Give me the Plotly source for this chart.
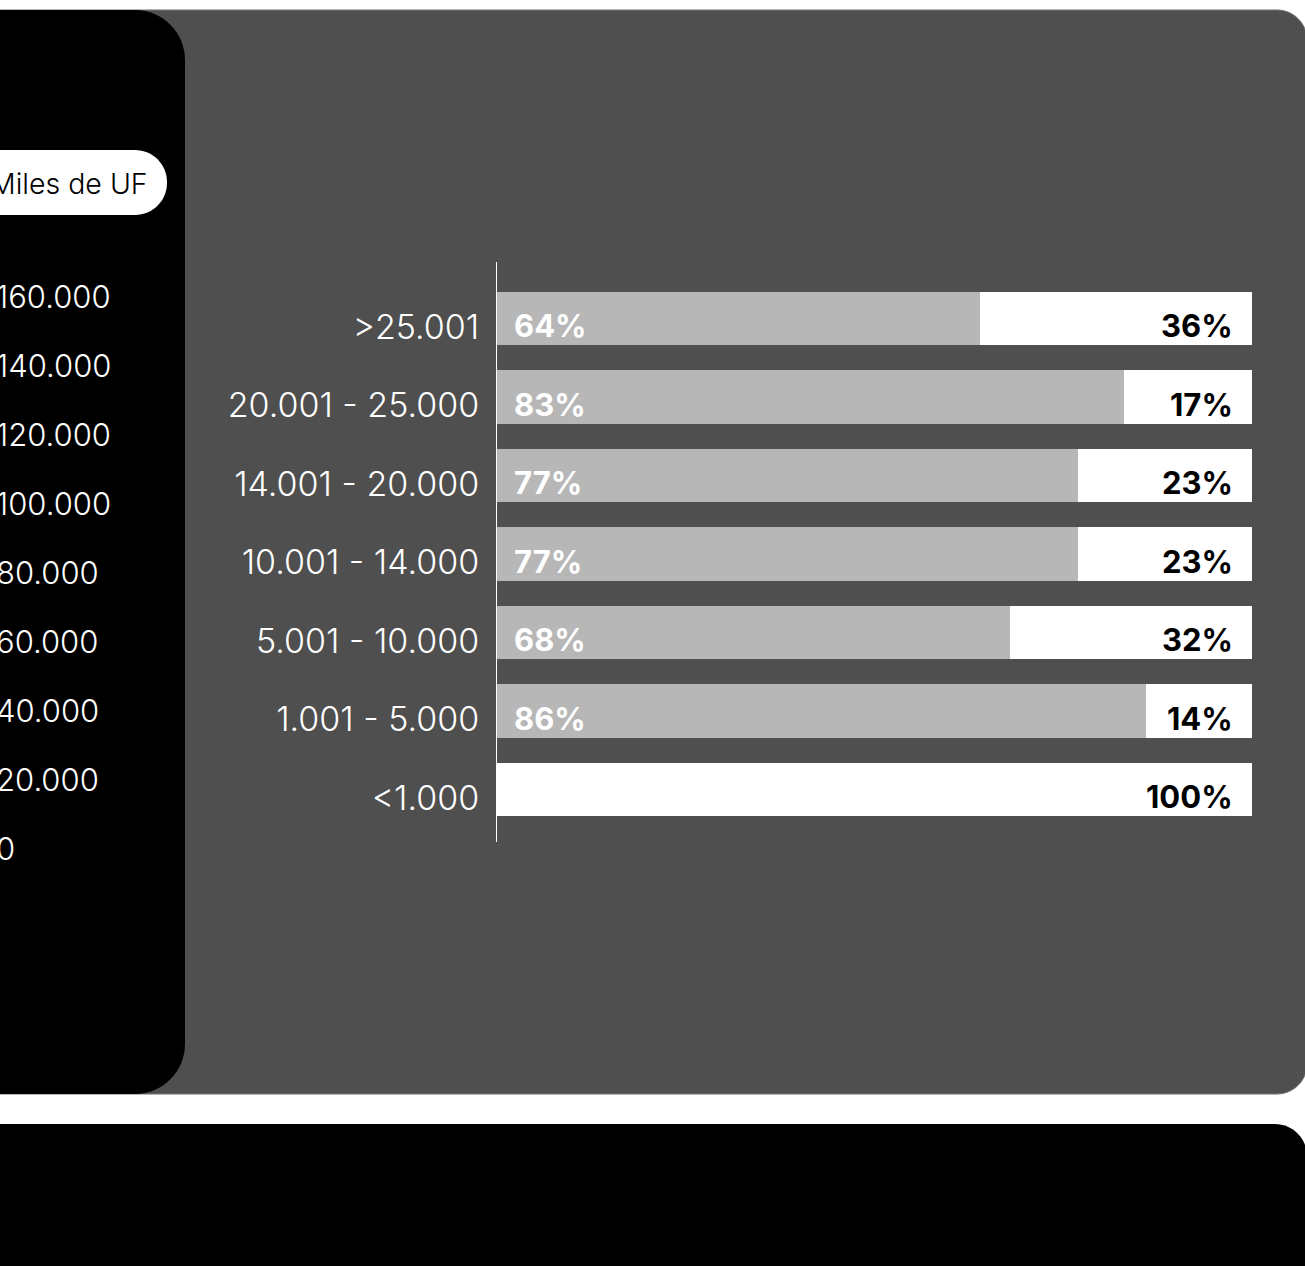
import plotly.graph_objects as go

# ---------------- data ----------------
categories = [">25.001", "20.001 - 25.000", "14.001 - 20.000", "10.001 - 14.000",
              "5.001 - 10.000", "1.001 - 5.000", "<1.000"]
share_gray = [64, 83, 77, 77, 68, 86, 0]
share_white = [36, 17, 23, 23, 32, 14, 100]
left_tick_values = [160000, 140000, 120000, 100000, 80000, 60000, 40000, 20000, 0]
left_tick_labels = ["160.000", "140.000", "120.000", "100.000", "80.000", "60.000",
                    "40.000", "20.000", "0"]
unit_label = "Miles de UF"

# ---------------- layout helpers ----------------
W, H = 1305, 1266
FONT = "Inter"
K = 0.5523


def px(x, y):
    return x / W, 1 - y / H


def rrect(x0, y0, x1, y1, rtl=0, rtr=0, rbr=0, rbl=0):
    def p(x, y):
        a, b = px(x, y)
        return f"{a:.6f},{b:.6f}"

    def corner(ax, ay, cx, cy, bx, by):
        c1 = (ax + K * (cx - ax), ay + K * (cy - ay))
        c2 = (bx + K * (cx - bx), by + K * (cy - by))
        return f" C {p(*c1)} {p(*c2)} {p(bx, by)}"

    s = f"M {p(x0 + rtl, y0)} L {p(x1 - rtr, y0)}"
    s += corner(x1 - rtr, y0, x1, y0, x1, y0 + rtr)
    s += f" L {p(x1, y1 - rbr)}"
    s += corner(x1, y1 - rbr, x1, y1, x1 - rbr, y1)
    s += f" L {p(x0 + rbl, y1)}"
    s += corner(x0 + rbl, y1, x0, y1, x0, y1 - rbl)
    s += f" L {p(x0, y0 + rtl)}"
    s += corner(x0, y0 + rtl, x0, y0, x0 + rtl, y0)
    return s + " Z"


fig = go.Figure()
fig.add_trace(go.Bar(y=categories, x=share_gray, orientation="h",
                     marker=dict(color="#b7b7b7", line=dict(width=0)),
                     hoverinfo="skip", showlegend=False))
fig.add_trace(go.Bar(y=categories, x=share_white, orientation="h",
                     marker=dict(color="#ffffff", line=dict(width=0)),
                     hoverinfo="skip", showlegend=False))

annotations = []
for cat, g, w in zip(categories, share_gray, share_white):
    if g > 0:
        annotations.append(dict(x=0, y=cat, xref="x", yref="y", text=f"{g}%",
                                showarrow=False, xanchor="left", xshift=15, yshift=-7,
                                font=dict(family=FONT, size=31, color="white", weight="bold")))
    if w > 0:
        annotations.append(dict(x=100, y=cat, xref="x", yref="y", text=f"{w}%",
                                showarrow=False, xanchor="right", xshift=-17, yshift=-7,
                                font=dict(family=FONT, size=31, color="black", weight="bold")))

for v, t in zip(left_tick_values, left_tick_labels):
    annotations.append(dict(x=-6 / W, y=v, xref="paper", yref="y2", text=t,
                            showarrow=False, xanchor="left", yanchor="middle",
                            font=dict(family=FONT, size=31, color="white", weight=300)))

annotations.append(dict(x=150 / W, y=1 - 183 / H, xref="paper", yref="paper", text=unit_label,
                        showarrow=False, xanchor="right", yanchor="middle",
                        font=dict(family=FONT, size=28.5, color="black", weight=300)))

shapes = [
    dict(type="path", xref="paper", yref="paper", layer="below",
         path=rrect(-20, 10, 1307, 1094, rtr=30, rbr=30),
         fillcolor="#4f4f4f", line=dict(color="#707070", width=1)),
    dict(type="path", xref="paper", yref="paper", layer="below",
         path=rrect(-20, 10, 185, 1094, rtr=50, rbr=50),
         fillcolor="#000000", line=dict(width=0)),
    dict(type="path", xref="paper", yref="paper", layer="below",
         path=rrect(-20, 1124, 1307, 1300, rtr=32),
         fillcolor="#000000", line=dict(width=0)),
    dict(type="path", xref="paper", yref="paper", layer="below",
         path=rrect(-60, 150, 167, 215, rtr=32, rbr=32),
         fillcolor="#ffffff", line=dict(width=0)),
]

# y2 maps the left-panel values: 0 -> 848px, 160000 -> 296px; its domain spans 270..880px
k = 552 / 160000
d_top, d_bot = 270, 880
r0 = -(d_bot - 848) / k
r1 = r0 + (d_bot - d_top) / k

fig.update_layout(
    width=W, height=H,
    margin=dict(l=0, r=0, t=0, b=0),
    paper_bgcolor="white",
    plot_bgcolor="rgba(0,0,0,0)",
    barmode="stack",
    bargap=0.32,
    showlegend=False,
    template="none",
    xaxis=dict(domain=[497 / W, 1252 / W], range=[0, 100], visible=False,
               showgrid=False, zeroline=False, fixedrange=True),
    yaxis=dict(domain=[(H - 842) / H, (H - 262) / H], type="category",
               categoryorder="array", categoryarray=categories,
               range=[6.667, -0.721], showgrid=False, zeroline=False,
               showline=True, linecolor="white", linewidth=1,
               ticks="outside", ticklen=10, tickcolor="rgba(0,0,0,0)",
               ticklabelshift=-8,
               tickfont=dict(family=FONT, size=34, color="white", weight=300),
               automargin=False, fixedrange=True),
    yaxis2=dict(anchor="x", domain=[(H - d_bot) / H, (H - d_top) / H],
                range=[r0, r1], visible=False, showgrid=False,
                zeroline=False, fixedrange=True),
    annotations=annotations,
    shapes=shapes,
)

fig.write_html("out.html")
